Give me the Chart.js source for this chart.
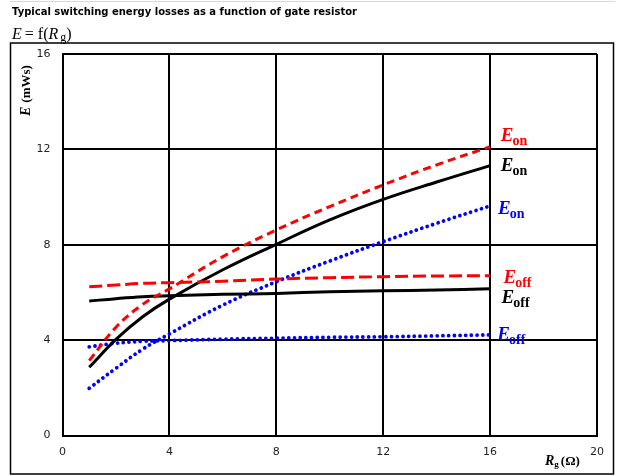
<!DOCTYPE html>
<html>
<head>
<meta charset="utf-8">
<script src="https://cdn.jsdelivr.net/npm/chart.js@4.4.1/dist/chart.umd.min.js"></script>
<style>
  html, body { margin: 0; padding: 0; background: #fff; }
  #wrap { width: 622px; height: 476px; position: relative; }
</style>
</head>
<body>
<div id="wrap"><canvas id="c" width="622" height="476"></canvas></div>
<script>
// Gate resistance values (Ω) at which the energies are given
const rgValues = [1, 2, 3, 4, 6, 8, 10, 12, 14, 16];

// Switching energies (mWs), three device variants
const eonRed    = [3.14, 4.54, 5.50, 6.15, 7.50, 8.62, 9.60, 10.51, 11.35, 12.11];
const eoffRed   = [6.24, 6.31, 6.38, 6.41, 6.47, 6.56, 6.62, 6.66, 6.69, 6.70];
const eonBlack  = [2.86, 4.03, 4.98, 5.72, 6.95, 8.02, 9.04, 9.90, 10.63, 11.32];
const eoffBlack = [5.64, 5.74, 5.82, 5.86, 5.92, 5.96, 6.03, 6.07, 6.10, 6.15];
const eonBlue   = [1.98, 2.82, 3.62, 4.26, 5.47, 6.45, 7.32, 8.13, 8.90, 9.63];
const eoffBlue  = [3.72, 3.87, 3.95, 3.98, 4.04, 4.08, 4.12, 4.14, 4.18, 4.22];

const xTicks = [0, 4, 8, 12, 16, 20];
const yTicks = [0, 4, 8, 12, 16];

// Curve end labels: [subscript, colour, Rg position, E baseline position]
const curveLabels = [
  ['on',  '#ff0000', 16.40, 12.35],
  ['on',  '#000000', 16.40, 11.09],
  ['on',  '#0000ff', 16.30, 9.29],
  ['off', '#ff0000', 16.50, 6.40],
  ['off', '#000000', 16.43, 5.56],
  ['off', '#0000ff', 16.27, 4.01]
];

const pts = ys => rgValues.map((x, i) => ({ x: x, y: ys[i] }));

function series(values, color, dash, width, cap) {
  return {
    data: pts(values),
    borderColor: color,
    backgroundColor: color,
    borderWidth: width,
    borderDash: dash,
    borderCapStyle: cap,
    showLine: true,
    pointRadius: 0,
    pointHoverRadius: 0,
    tension: 0.4,
    fill: false
  };
}

const serif = '"Liberation Serif", "DejaVu Serif", serif';

// Page furniture: frame, heading and formula line
const framePlugin = {
  id: 'frame',
  beforeDraw(chart) {
    const ctx = chart.ctx;
    ctx.save();
    ctx.fillStyle = '#ffffff';
    ctx.fillRect(0, 0, chart.width, chart.height);

    ctx.strokeStyle = '#d8d8d8';
    ctx.lineWidth = 1;
    ctx.beginPath();
    ctx.moveTo(10, 1.5); ctx.lineTo(615, 1.5);
    ctx.stroke();

    ctx.strokeStyle = '#000';
    ctx.lineWidth = 1.5;
    ctx.strokeRect(10.5, 43, 603, 431);

    ctx.fillStyle = '#000';
    ctx.textBaseline = 'alphabetic';
    ctx.textAlign = 'left';
    ctx.font = 'bold 10px "DejaVu Sans", Verdana, sans-serif';
    ctx.fillText('Typical switching energy losses as a function of gate resistor', 12, 15);

    // E = f(Rg)
    let x = 12;
    const by = 39;
    ctx.font = 'italic 16px ' + serif;
    ctx.fillText('E', x, by); x += ctx.measureText('E').width + 3;
    ctx.font = '16px ' + serif;
    ctx.fillText('= f(', x, by); x += ctx.measureText('= f(').width;
    ctx.font = 'italic 16px ' + serif;
    ctx.fillText('R', x, by); x += ctx.measureText('R').width + 2;
    ctx.font = '12px ' + serif;
    ctx.fillText('g', x, by + 2); x += ctx.measureText('g').width;
    ctx.font = '16px ' + serif;
    ctx.fillText(')', x, by);
    ctx.restore();
  },
  afterDraw(chart) {
    const ctx = chart.ctx;
    const xs = chart.scales.x, ys = chart.scales.y;
    ctx.save();
    ctx.textBaseline = 'alphabetic';
    ctx.textAlign = 'left';

    // Curve labels at the right-hand ends
    curveLabels.forEach(([sub, color, rx, ey]) => {
      const px = xs.getPixelForValue(rx);
      const py = ys.getPixelForValue(ey);
      ctx.fillStyle = color;
      ctx.font = 'bold italic 19px ' + serif;
      ctx.fillText('E', px, py);
      const w = ctx.measureText('E').width;
      ctx.font = 'bold 14px ' + serif;
      ctx.fillText(sub, px + w - 1, py + 4);
    });

    // Axis titles
    ctx.fillStyle = '#000';
    // x: Rg (Ω)
    let x = 545;
    const by = 465;
    ctx.font = 'bold italic 14px ' + serif;
    ctx.fillText('R', x, by); x += ctx.measureText('R').width;
    ctx.font = 'bold 9px ' + serif;
    ctx.fillText('g', x, by + 2); x += ctx.measureText('g').width + 2;
    ctx.font = 'bold 13px ' + serif;
    ctx.fillText('(Ω)', x, by);

    // y: E (mWs), rotated
    ctx.translate(30, 116);
    ctx.rotate(-Math.PI / 2);
    let t = 0;
    ctx.font = 'bold italic 14px ' + serif;
    ctx.fillText('E', t, 0); t += ctx.measureText('E').width + 4;
    ctx.font = 'bold 13px ' + serif;
    ctx.fillText('(mWs)', t, 0);
    ctx.restore();
  }
};

const tickFont = { family: '"DejaVu Sans", Verdana, sans-serif', size: 11 };

new Chart(document.getElementById('c'), {
  type: 'scatter',
  data: {
    datasets: [
      series(eonRed,    '#ff0000', [8, 5], 3, 'butt'),
      series(eoffRed,   '#ff0000', [13, 5], 3, 'butt'),
      series(eonBlack,  '#000000', [], 3, 'butt'),
      series(eoffBlack, '#000000', [], 3, 'butt'),
      series(eonBlue,   '#0000ff', [0.01, 5.7], 3.8, 'round'),
      series(eoffBlue,  '#0000ff', [0.01, 5.7], 3.8, 'round')
    ]
  },
  options: {
    responsive: false,
    animation: false,
    devicePixelRatio: 1,
    layout: { padding: { left: 10, right: 25, top: 54, bottom: 10.5 } },
    plugins: { legend: { display: false }, tooltip: { enabled: false } },
    scales: {
      x: {
        type: 'linear',
        min: 0, max: 20,
        afterFit(axis) { axis.height = 30; },
        afterBuildTicks(axis) { axis.ticks = xTicks.map(v => ({ value: v })); },
        ticks: { font: tickFont, color: '#222', padding: 10, maxRotation: 0 },
        grid: { color: '#000', lineWidth: 2, drawTicks: false },
        border: { color: '#000', width: 2 }
      },
      y: {
        type: 'linear',
        min: 0, max: 16,
        afterFit(axis) { axis.width = 52.5; },
        afterBuildTicks(axis) { axis.ticks = yTicks.map(v => ({ value: v })); },
        ticks: { font: tickFont, color: '#222', padding: 12 },
        grid: { color: '#000', lineWidth: 2, drawTicks: false },
        border: { color: '#000', width: 2 }
      }
    }
  },
  plugins: [framePlugin]
});
</script>
</body>
</html>
